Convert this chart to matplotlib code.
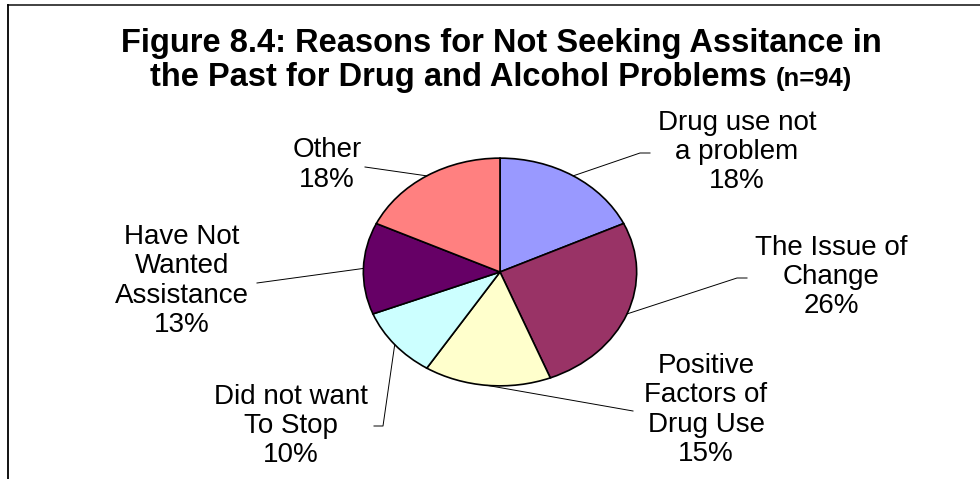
import numpy as np
import matplotlib
matplotlib.use('Agg')
import matplotlib.pyplot as plt
from matplotlib.lines import Line2D

plt.rcParams['font.family'] = ['Liberation Sans', 'DejaVu Sans']

reasons = ['Drug use not\na problem', 'The Issue of\nChange', 'Positive\nFactors of\nDrug Use',
           'Did not want\nTo Stop', 'Have Not\nWanted\nAssistance', 'Other']
percent = [18, 26, 15, 10, 13, 18]
colors = ['#9999FF', '#993366', '#FFFFCC', '#CCFFFF', '#660066', '#FF8080']

W, H = 980, 479
fig = plt.figure(figsize=(W / 100, H / 100), dpi=100)

def px(x, y):
    # pixel position (from top-left) -> figure fraction
    return x / W, 1 - y / H

# pie box: centre (500, 272), half-width 138, half-height 115
cx, cy, rx, ry = 500, 272, 138, 115
ax = fig.add_axes([(cx - rx) / W, (H - cy - ry) / H, 2 * rx / W, 2 * ry / H])
wedges, _ = ax.pie(percent, colors=colors, startangle=90, counterclock=False,
                   radius=1, wedgeprops=dict(edgecolor='black', linewidth=1.2))
ax.set_xlim(-1.01, 1.01)
ax.set_ylim(-1.01, 1.01)
ax.set_aspect('auto')
ax.axis('off')

# label centre and leader line end points (pixels)
label_xy = [(737, 152), (831, 277), (706, 410), (291, 426), (182, 281), (327, 165)]
leader_pts = [[(640, 153), (650, 153)],
              [(737, 278), (747, 278)],
              [(633, 411)],
              [(383, 426), (374, 426)],
              [(257, 283)],
              [(365, 167)]]

to_fig = fig.transFigure.inverted()
for w, name, p, (lx, ly), pts in zip(wedges, reasons, percent, label_xy, leader_pts):
    theta = np.deg2rad((w.theta1 + w.theta2) / 2)
    start = to_fig.transform(ax.transData.transform((np.cos(theta), np.sin(theta))))
    xs = [start[0]] + [px(*q)[0] for q in pts]
    ys = [start[1]] + [px(*q)[1] for q in pts]
    fig.add_artist(Line2D(xs, ys, color='black', linewidth=0.7))
    fig.text(*px(lx, ly), '{}\n{}%'.format(name, p), ha='center', va='center',
             fontsize=20, linespacing=1.17, color='black')

# title
fig.text(*px(501, 52), 'Figure 8.4: Reasons for Not Seeking Assitance in',
         ha='center', va='baseline', fontsize=23.5, fontweight='bold')
t1 = fig.text(0, 0, 'the Past for Drug and Alcohol Problems ', ha='left', va='baseline',
              fontsize=23.5, fontweight='bold')
t2 = fig.text(0, 0, '(n=94)', ha='left', va='baseline', fontsize=18.5, fontweight='bold')
r = fig.canvas.get_renderer()
w1 = t1.get_window_extent(r).width
w2 = t2.get_window_extent(r).width
x0 = 501 - (w1 + w2) / 2
t1.set_position(px(x0, 86))
t2.set_position(px(x0 + w1, 86))

# chart border (top and left edges)
fig.add_artist(Line2D([px(8, 5)[0], 1], [px(8, 5)[1]] * 2, color='#333333', linewidth=1.3))
fig.add_artist(Line2D([px(8, 5)[0]] * 2, [px(8, 5)[1], 0], color='black', linewidth=1.3))

fig.savefig('out.png', dpi=100)
